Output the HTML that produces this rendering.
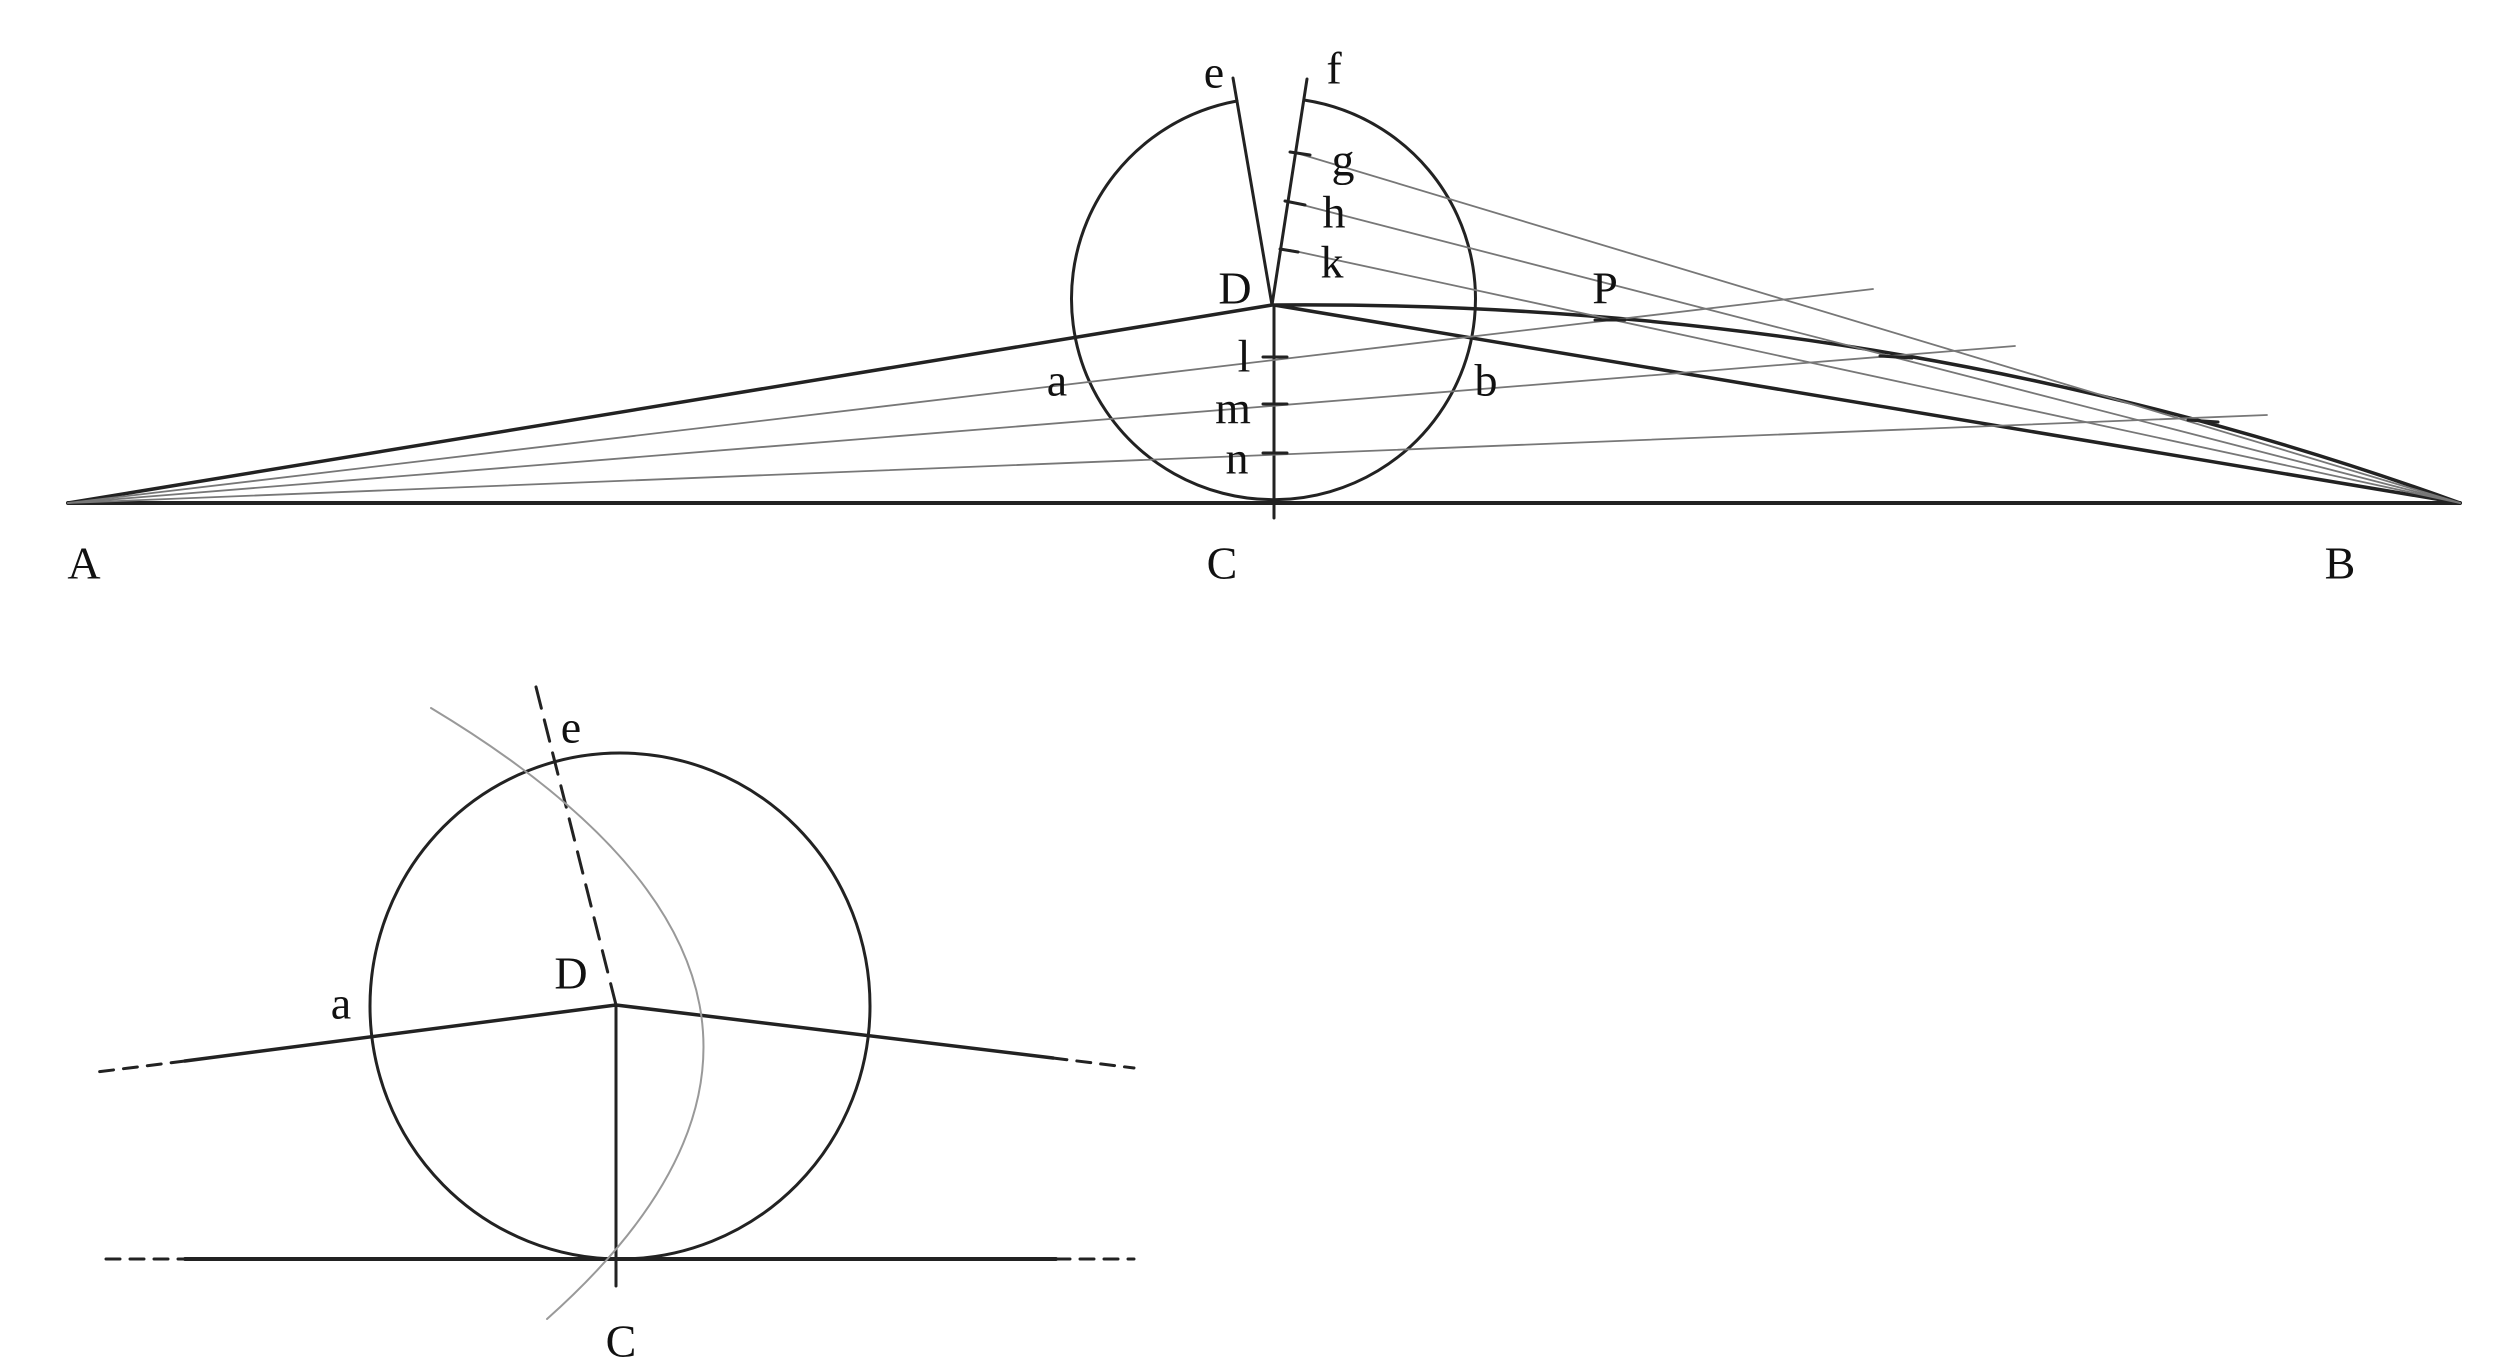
<!DOCTYPE html>
<html><head><meta charset="utf-8"><style>
html,body{margin:0;padding:0;background:#fff;}
svg{display:block;}
text{font-family:"Liberation Serif",serif;fill:#111;}
</style></head><body>
<svg width="2509" height="1365" viewBox="0 0 2509 1365" xmlns="http://www.w3.org/2000/svg">
<g fill="none" stroke="#222" stroke-linecap="round">
<line x1="68" y1="503" x2="2460" y2="503" stroke-width="4"/>
<path d="M1237,101 A202,201 0 1 0 1304,100" stroke-width="3"/>
<line x1="1274" y1="305" x2="1274" y2="518" stroke-width="3"/>
<line x1="1272" y1="305" x2="1233" y2="78" stroke-width="3"/>
<line x1="1272" y1="305" x2="1307" y2="79" stroke-width="3"/>
<line x1="1272" y1="305" x2="68" y2="503" stroke-width="3.5"/>
<line x1="1274" y1="305" x2="2460" y2="503" stroke-width="3.5"/>
<path d="M1276,305 Q1900,300 2460,503" stroke-width="3.5"/>
<g stroke="#777" stroke-width="1.8">
<line x1="68" y1="503" x2="1873" y2="289"/>
<line x1="68" y1="503" x2="2015" y2="346"/>
<line x1="68" y1="503" x2="2267" y2="415"/>
<line x1="2460" y1="503" x2="1300" y2="154"/>
<line x1="2460" y1="503" x2="1295" y2="203"/>
<line x1="2460" y1="503" x2="1290" y2="250"/>
</g>
<g stroke-width="3">
<line x1="1263" y1="357" x2="1287" y2="357"/>
<line x1="1263" y1="404" x2="1287" y2="404"/>
<line x1="1263" y1="453" x2="1287" y2="453"/>
<line x1="1290" y1="152" x2="1310" y2="155"/>
<line x1="1285" y1="201" x2="1305" y2="205"/>
<line x1="1280" y1="249" x2="1298" y2="252"/>
<line x1="1595" y1="320" x2="1625" y2="320"/>
<line x1="1880" y1="356" x2="1912" y2="358"/>
<line x1="2188" y1="420" x2="2218" y2="422"/>
</g>
<ellipse cx="620" cy="1006" rx="250" ry="253" stroke-width="3"/>
<line x1="616" y1="1005" x2="616" y2="1286" stroke-width="3"/>
<line x1="616" y1="1005" x2="185" y2="1061" stroke-width="3.5"/>
<line x1="185" y1="1061" x2="97" y2="1072" stroke-width="3" stroke-dasharray="14,10"/>
<line x1="616" y1="1005" x2="1053" y2="1058" stroke-width="3.5"/>
<line x1="1053" y1="1058" x2="1134" y2="1068" stroke-width="3" stroke-dasharray="14,10"/>
<line x1="185" y1="1259" x2="1056" y2="1259" stroke-width="4"/>
<line x1="106" y1="1259" x2="185" y2="1259" stroke-width="3" stroke-dasharray="14,10"/>
<line x1="1056" y1="1259" x2="1134" y2="1259" stroke-width="3" stroke-dasharray="14,10"/>
<line x1="616" y1="1005" x2="535" y2="683" stroke-width="3" stroke-dasharray="22,12"/>
<path d="M431,708 Q910,996 547,1319" stroke="#999" stroke-width="2"/>
</g>
<g font-size="46" text-anchor="middle" dominant-baseline="central">
<text x="84" y="563">A</text>
<text x="1222" y="563">C</text>
<text x="2340" y="563">B</text>
<text x="1605" y="288">P</text>
<text x="1057" y="380">a</text>
<text x="1486" y="380">b</text>
<text x="1235" y="288">D</text>
<text x="1244" y="356">l</text>
<text x="1233" y="408">m</text>
<text x="1237" y="458">n</text>
<text x="1343" y="160">g</text>
<text x="1334" y="212">h</text>
<text x="1332" y="262">k</text>
<text x="1334" y="68">f</text>
<text x="1214" y="72">e</text>
<text x="571" y="727">e</text>
<text x="341" y="1003">a</text>
<text x="571" y="973">D</text>
<text x="621" y="1341">C</text>
</g>
</svg>
</body></html>
